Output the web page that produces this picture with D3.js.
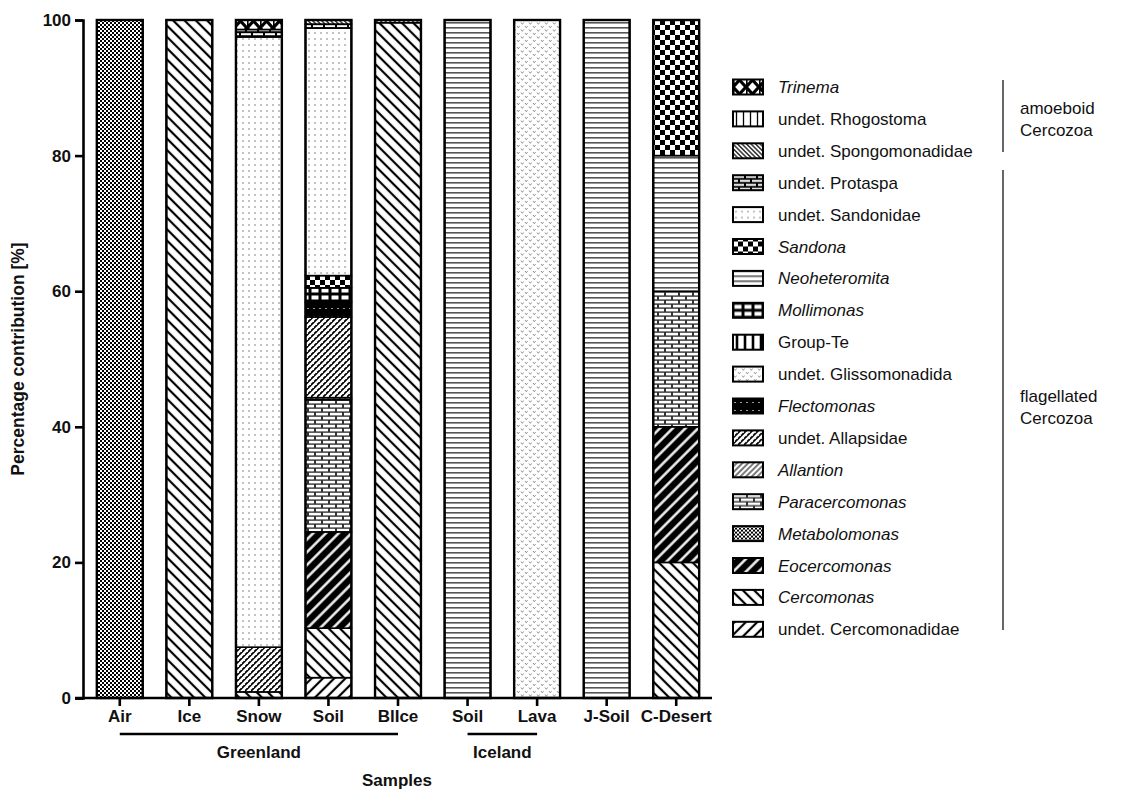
<!DOCTYPE html>
<html>
<head>
<meta charset="utf-8">
<script src="https://cdn.jsdelivr.net/npm/d3@7"></script>
<style>
body{margin:0;background:#fff;}
text{font-family:Arial,"Liberation Sans",sans-serif;fill:#111;}
</style>
</head>
<body>
<div id="chart"></div>
<script>
// samples on the x axis
var sampleIds = ["air","ice","snow","gsoil","blice","isoil","lava","jsoil","cdesert"];
var sampleLabels = ["Air","Ice","Snow","Soil","BlIce","Soil","Lava","J-Soil","C-Desert"];

// groups under the axis (first and last sample of each)
var groupNames = ["Greenland","Iceland"];
var groupSpans = [["air","blice"],["isoil","lava"]];

var yTicks = [0,20,40,60,80,100];

// percentage per taxon, same order as sampleIds
var trinema         = [0,0,1.4,0,0,0,0,0,0];
var rhogostoma      = [0,0,0,0,0,0,0,0,0];
var spongomonadidae = [0,0,0,0.6,0.4,0,0,0,0];
var protaspa        = [0,0,1.1,0.6,0,0,0,0,0];
var sandonidae      = [0,0,90.0,36.5,0,0,0,0,0];
var sandona         = [0,0,0,1.8,0,0,0,0,20];
var neoheteromita   = [0,0,0,0,0,100,0,100,20];
var mollimonas      = [0,0,0,2.1,0,0,0,0,0];
var groupTe         = [0,0,0,0,0,0,0,0,0];
var glissomonadida  = [0,0,0,0,0,0,100,0,0];
var flectomonas     = [0,0,0,2.2,0,0,0,0,0];
var allapsidae      = [0,0,6.6,11.9,0,0,0,0,0];
var allantion       = [0,0,0,0.3,0,0,0,0,0];
var paracercomonas  = [0,0,0,19.5,0,0,0,0,20];
var metabolomonas   = [100,0,0,0,0,0,0,0,0];
var eocercomonas    = [0,0,0,14.2,0,0,0,0,20];
var cercomonas      = [0,100,0.9,7.3,99.6,0,0,0,20];
var cercomonadidae  = [0,0,0,3.0,0,0,0,0,0];

// legend order (top to bottom)
var taxa = [
  {key:"trinema", label:"Trinema", italic:true, values:trinema},
  {key:"rhogostoma", label:"undet. Rhogostoma", italic:false, values:rhogostoma},
  {key:"spongomonadidae", label:"undet. Spongomonadidae", italic:false, values:spongomonadidae},
  {key:"protaspa", label:"undet. Protaspa", italic:false, values:protaspa},
  {key:"sandonidae", label:"undet. Sandonidae", italic:false, values:sandonidae},
  {key:"sandona", label:"Sandona", italic:true, values:sandona},
  {key:"neoheteromita", label:"Neoheteromita", italic:true, values:neoheteromita},
  {key:"mollimonas", label:"Mollimonas", italic:true, values:mollimonas},
  {key:"groupTe", label:"Group-Te", italic:false, values:groupTe},
  {key:"glissomonadida", label:"undet. Glissomonadida", italic:false, values:glissomonadida},
  {key:"flectomonas", label:"Flectomonas", italic:true, values:flectomonas},
  {key:"allapsidae", label:"undet. Allapsidae", italic:false, values:allapsidae},
  {key:"allantion", label:"Allantion", italic:true, values:allantion},
  {key:"paracercomonas", label:"Paracercomonas", italic:true, values:paracercomonas},
  {key:"metabolomonas", label:"Metabolomonas", italic:true, values:metabolomonas},
  {key:"eocercomonas", label:"Eocercomonas", italic:true, values:eocercomonas},
  {key:"cercomonas", label:"Cercomonas", italic:true, values:cercomonas},
  {key:"cercomonadidae", label:"undet. Cercomonadidae", italic:false, values:cercomonadidae}
];

var W = 1135, H = 791;
var svg = d3.select("#chart").append("svg").attr("width", W).attr("height", H);
var defs = svg.append("defs");

// ---- fill patterns ----
function hatch(id, step, lw, angle, fg, bg){
  var p = defs.append("pattern").attr("id", id)
    .attr("patternUnits","userSpaceOnUse")
    .attr("width", step).attr("height", step)
    .attr("patternTransform","rotate(" + angle + ")");
  p.append("rect").attr("width", step).attr("height", step).attr("fill", bg);
  p.append("line").attr("x1", step/2).attr("x2", step/2).attr("y1", 0).attr("y2", step)
    .attr("stroke", fg).attr("stroke-width", lw);
  return p;
}
function tile(id, w, h, bg){
  var p = defs.append("pattern").attr("id", id)
    .attr("patternUnits","userSpaceOnUse").attr("width", w).attr("height", h);
  p.append("rect").attr("width", w).attr("height", h).attr("fill", bg);
  return p;
}

var p;
p = tile("trinema", 13, 14, "#fff");
p.append("path").attr("d","M0,0L13,14M13,0L0,14M0,0V14")
  .attr("stroke","#000").attr("stroke-width",3.2);
hatch("rhogostoma", 7, 1.3, 0, "#000", "#fff");
hatch("spongomonadidae", 3.2, 1.2, -45, "#000", "#fff");
p = tile("protaspa", 12, 8, "#000");
p.append("rect").attr("x",1).attr("y",1.2).attr("width",10).attr("height",2).attr("fill","#fff");
p.append("rect").attr("x",-5).attr("y",5.2).attr("width",10).attr("height",2).attr("fill","#fff");
p.append("rect").attr("x",7).attr("y",5.2).attr("width",10).attr("height",2).attr("fill","#fff");
p = tile("sandonidae", 6, 6, "#fff");
p.append("circle").attr("cx",3).attr("cy",3).attr("r",0.8).attr("fill","#777");
p = tile("sandona", 10, 10, "#fff");
p.append("rect").attr("width",5).attr("height",5).attr("fill","#000");
p.append("rect").attr("x",5).attr("y",5).attr("width",5).attr("height",5).attr("fill","#000");
p = tile("neoheteromita", 6, 5, "#fff");
p.append("rect").attr("y",2).attr("width",6).attr("height",1.6).attr("fill","#555");
p = tile("mollimonas", 10, 7, "#000");
p.append("rect").attr("x",1.5).attr("y",1.5).attr("width",7).attr("height",4).attr("fill","#fff");
hatch("groupTe", 8, 2.6, 0, "#000", "#fff");
p = tile("glissomonadida", 8, 7, "#fff");
p.append("path").attr("d","M1,1.5l1.3,1.8l1.3,-1.8M5,5l1.3,1.8l1.3,-1.8")
  .attr("fill","none").attr("stroke","#888").attr("stroke-width",0.9);
p = tile("flectomonas", 6, 8, "#000");
p.append("rect").attr("x",1).attr("y",4).attr("width",2).attr("height",1).attr("fill","#999");
p = tile("allapsidae", 6, 6, "#fff");
p.append("path").attr("d","M-1,7L7,-1M-4,4L4,-4M2,10L10,2").attr("stroke","#000").attr("stroke-width",1.8);
p.append("path").attr("d","M0,3.5h2M3,0.5h2M3,6.5h2").attr("stroke","#fff").attr("stroke-width",0.9);
hatch("allantion", 4, 1.3, 45, "#333", "#fff");
p = tile("paracercomonas", 14, 8, "#333");
p.append("rect").attr("x",1).attr("y",0.8).attr("width",12).attr("height",2.6).attr("fill","#fff");
p.append("rect").attr("x",-6).attr("y",4.8).attr("width",12).attr("height",2.6).attr("fill","#fff");
p.append("rect").attr("x",8).attr("y",4.8).attr("width",12).attr("height",2.6).attr("fill","#fff");
p = tile("metabolomonas", 4, 4, "#fff");
p.append("rect").attr("width",2).attr("height",2).attr("fill","#000");
p.append("rect").attr("x",2).attr("y",2).attr("width",2).attr("height",2).attr("fill","#000");
hatch("eocercomonas", 9, 2.4, 45, "#fff", "#000");
hatch("cercomonas", 8, 2.2, -45, "#000", "#fff");
hatch("cercomonadidae", 8, 2.2, 45, "#000", "#fff");

// ---- scales ----
var x = d3.scaleBand().domain(sampleIds).range([85, 711]).paddingInner(0.34).paddingOuter(0.17);
var y = d3.scaleLinear().domain([0, 100]).range([698, 20]);
var axisX = 83;

// ---- stacked data ----
var rows = sampleIds.map(function(s, i){
  var r = {sample: s};
  taxa.forEach(function(t){ r[t.key] = t.values[i]; });
  return r;
});
var stackKeys = taxa.map(function(t){ return t.key; }).reverse();
var series = d3.stack().keys(stackKeys)(rows);

var g = svg.append("g");
series.forEach(function(s){
  g.selectAll(null)
    .data(s.filter(function(d){ return d[1] - d[0] > 0; }))
    .enter().append("rect")
    .attr("x", function(d){ return x(d.data.sample); })
    .attr("width", x.bandwidth())
    .attr("y", function(d){ return y(d[1]); })
    .attr("height", function(d){ return y(d[0]) - y(d[1]); })
    .attr("fill", "url(#" + s.key + ")")
    .attr("stroke", "#000")
    .attr("stroke-width", 1.6);
});
// bar outlines
g.selectAll(".outline").data(sampleIds).enter().append("rect")
  .attr("x", function(d){ return x(d); })
  .attr("width", x.bandwidth())
  .attr("y", y(100))
  .attr("height", y(0) - y(100))
  .attr("fill", "none").attr("stroke", "#000").attr("stroke-width", 2.4);

// ---- axes ----
var yAxis = svg.append("g").attr("transform", "translate(" + axisX + ",0)")
  .call(d3.axisLeft(y).tickValues(yTicks).tickSize(8).tickPadding(4));
yAxis.select(".domain").attr("stroke-width", 2.6);
yAxis.selectAll(".tick line").attr("stroke-width", 2.6);
yAxis.selectAll("text").attr("font-size", 17).attr("font-weight", "bold").attr("fill", "#111");

var xAxis = svg.append("g").attr("transform", "translate(0," + y(0) + ")")
  .call(d3.axisBottom(x).tickSize(8).tickSizeOuter(0).tickPadding(4)
    .tickFormat(function(d, i){ return sampleLabels[i]; }));
xAxis.select(".domain").attr("d", "M" + (axisX - 8) + ",0H712").attr("stroke-width", 2.6);
xAxis.selectAll(".tick line").attr("stroke-width", 2.6);
xAxis.selectAll("text").attr("font-size", 17).attr("font-weight", "bold").attr("fill", "#111");

// group lines
groupNames.forEach(function(name, i){
  var a = x(groupSpans[i][0]) + x.bandwidth()/2;
  var b = x(groupSpans[i][1]) + x.bandwidth()/2;
  svg.append("line").attr("x1", a).attr("x2", b).attr("y1", 734).attr("y2", 734)
    .attr("stroke", "#000").attr("stroke-width", 2.4);
  svg.append("text").attr("x", (a + b)/2).attr("y", 758).attr("text-anchor", "middle")
    .attr("font-size", 17).attr("font-weight", "bold").text(name);
});

svg.append("text").attr("x", 397).attr("y", 786).attr("text-anchor", "middle")
  .attr("font-size", 17).attr("font-weight", "bold").text("Samples");

svg.append("text").attr("transform", "translate(24,359) rotate(-90)")
  .attr("text-anchor", "middle").attr("font-size", 17.5).attr("font-weight", "bold")
  .text("Percentage contribution [%]");

// ---- legend ----
var legend = svg.append("g").attr("transform", "translate(733,87)");
var item = legend.selectAll(".item").data(taxa).enter().append("g")
  .attr("transform", function(d, i){ return "translate(0," + (i * 31.9) + ")"; });
item.append("rect").attr("x", 0).attr("y", -7.5).attr("width", 30).attr("height", 15)
  .attr("fill", function(d){ return "url(#" + d.key + ")"; })
  .attr("stroke", "#000").attr("stroke-width", 2);
item.append("text").attr("x", 45).attr("y", 6).attr("font-size", 17)
  .attr("font-style", function(d){ return d.italic ? "italic" : "normal"; })
  .text(function(d){ return d.label; });

// brackets
svg.append("line").attr("x1", 1003).attr("x2", 1003).attr("y1", 80).attr("y2", 152)
  .attr("stroke", "#000").attr("stroke-width", 1.2);
svg.append("line").attr("x1", 1003).attr("x2", 1003).attr("y1", 170).attr("y2", 630)
  .attr("stroke", "#000").attr("stroke-width", 1.2);
var bl = [["amoeboid", 114], ["Cercozoa", 136], ["flagellated", 402], ["Cercozoa", 424]];
bl.forEach(function(b){
  svg.append("text").attr("x", 1020).attr("y", b[1]).attr("font-size", 17).text(b[0]);
});
</script>
</body>
</html>
